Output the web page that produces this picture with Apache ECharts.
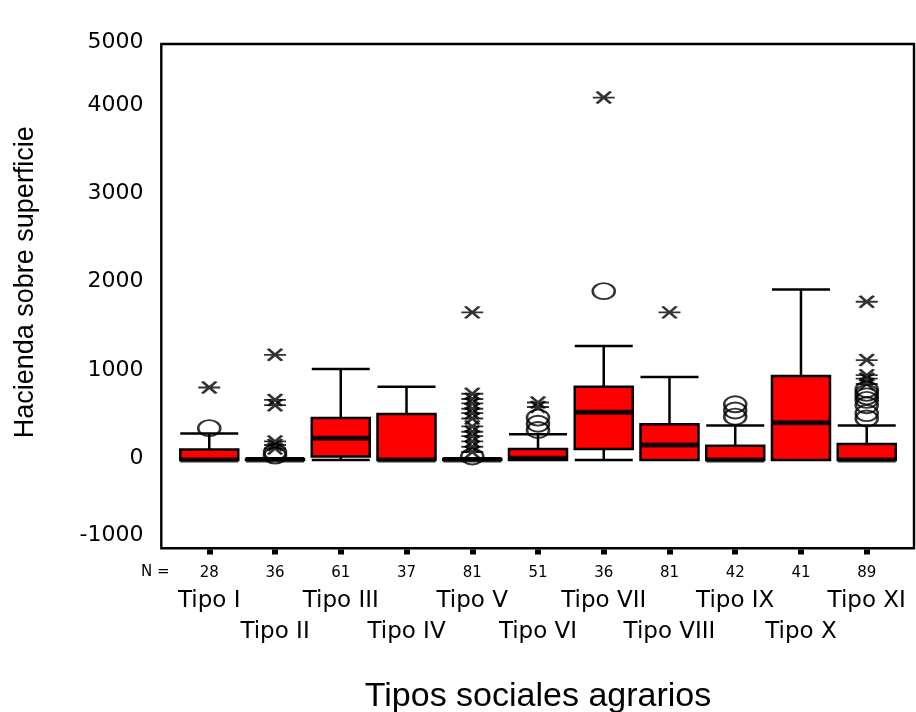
<!DOCTYPE html>
<html><head><meta charset="utf-8">
<script src="https://cdn.jsdelivr.net/npm/echarts@6/dist/echarts.min.js"></script>
<style>html,body{margin:0;padding:0;background:#fff}#c{width:916px;height:712px}</style>
</head><body><div id="c"></div>
<script>
const categories = ['Tipo I','Tipo II','Tipo III','Tipo IV','Tipo V','Tipo VI','Tipo VII','Tipo VIII','Tipo IX','Tipo X','Tipo XI'];
const nCounts = [28,36,61,37,81,51,36,81,42,41,89];
const whiskerLow = [0,0,0,0,0,0,0,0,0,0,0];
const q1 = [0,0,40,0,0,0,125,0,0,0,0];
const median = [0,0,245,0,0,20,540,170,0,420,0];
const q3 = [120,10,475,520,10,125,830,405,160,950,180];
const whiskerHigh = [300,20,1030,830,20,290,1290,940,390,1930,390];
const outliers = [[360],[90,50],[],[],[40],[340,410,480],[1910],[],[490,560,630],[],[470,530,620,680,720,760,800]];
const extremes = [[820],[1190,680,620,210,170,130],[],[],[1670,750,690,640,580,530,470,380,320,270,210,150,90],[600,650],[4100],[1670],[],[],[860,920,960,1130,1790]];
const yTickValues = [-1000,0,1000,2000,3000,4000];
const yTickLabels = ['-1000','0','1000','2000','3000','4000','5000'];
const nLabel = 'N =';
const xTitle = 'Tipos sociales agrarios';
const yTitle = 'Hacienda sobre superficie';

const boxData = categories.map((c,i)=>[whiskerLow[i],q1[i],median[i],q3[i],whiskerHigh[i]]);
const medData = categories.map((c,i)=>[i, median[i]]);
const outData = []; outliers.forEach((arr,i)=>arr.forEach(v=>outData.push([i,v])));
const extData = []; extremes.forEach((arr,i)=>arr.forEach(v=>extData.push([i,v])));

const chart = echarts.init(document.getElementById('c'), null, {renderer:'canvas'});
const GL = 176.4, GR = 16.4, GT = 44, GB = 163.6;
chart.setOption({
  animation:false,
  backgroundColor:'#fff',
  grid:[
    {left:161.3, right:2, top:GT, bottom:163.7, show:true, borderColor:'#000', borderWidth:2.4, backgroundColor:'transparent', outerBoundsMode:'none', containLabel:false},
    {left:GL, right:GR, top:GT, bottom:GB, outerBoundsMode:'none', containLabel:false}
  ],
  xAxis:[
    {gridIndex:0, type:'value', show:false},
    {gridIndex:1, type:'category', data:categories, position:'bottom', offset:1,
      axisLine:{show:false, onZero:false},
      axisTick:{show:true, alignWithLabel:true, length:5, inside:false, lineStyle:{color:'#000', width:6}},
      axisLabel:{interval:0, margin:16, fontFamily:'DejaVu Sans', fontSize:15, color:'#000',
        formatter:(v,i)=>String(nCounts[i])},
      splitLine:{show:false}},
    {gridIndex:1, type:'category', data:categories, position:'bottom',
      axisLine:{show:false, onZero:false}, axisTick:{show:false}, splitLine:{show:false},
      axisLabel:{interval:0, margin:37, fontFamily:'DejaVu Sans', fontSize:23, color:'#000', lineHeight:31,
        formatter:(v,i)=> i%2 ? '\n'+v : v},
      name:xTitle, nameLocation:'middle', nameGap:131,
      nameTextStyle:{fontFamily:'Liberation Sans', fontSize:34, color:'#000'}}
  ],
  yAxis:[
    {gridIndex:0, type:'value', show:false},
    {gridIndex:1, type:'value', min:-1000, max:4706, interval:1000,
      axisLine:{show:false, onZero:false}, axisTick:{show:false}, splitLine:{show:false},
      axisLabel:{margin:33, fontFamily:'DejaVu Sans', fontSize:22, color:'#000', padding:[0,0,3,0],
        formatter:(v)=>{ if(v>4000) return yTickLabels[6]; if(v<=-1000) return '{lo|'+yTickLabels[0]+'}';
          const k = yTickValues.indexOf(v); return k>=0 ? yTickLabels[k] : ''; },
        rich:{lo:{fontFamily:'DejaVu Sans', fontSize:22, color:'#000', padding:[0,0,24,0]}}},
      name:yTitle, nameLocation:'middle', nameRotate:90, nameGap:137,
      nameTextStyle:{fontFamily:'Liberation Sans', fontSize:27, color:'#000', padding:[0,0,0,28]}}
  ],
  graphic:[
    {type:'text', left:141, top:565, style:{text:nLabel, font:'15px "DejaVu Sans"', fill:'#000'}}
  ],
  series:[
    {type:'boxplot', xAxisIndex:1, yAxisIndex:1, data:boxData, boxWidth:[58,58],
      itemStyle:{color:'#ff0000', borderColor:'#000', borderWidth:2.5},
      emphasis:{disabled:true}, z:2},
    {type:'scatter', xAxisIndex:1, yAxisIndex:1, data:medData, symbol:'rect', symbolSize:[58,5],
      itemStyle:{color:'#000'}, emphasis:{disabled:true}, z:3},
    {type:'scatter', xAxisIndex:1, yAxisIndex:1, data:outData,
      symbol:'path://M0,8 A11,8 0 1,1 22,8 A11,8 0 1,1 0,8 Z', symbolSize:[22,16],
      itemStyle:{color:'rgba(0,0,0,0)', borderColor:'#000', borderWidth:2.2}, emphasis:{disabled:true}, z:4},
    {type:'scatter', xAxisIndex:1, yAxisIndex:1, data:extData,
      symbol:'path://M4,0 L18,12 M18,0 L4,12 M0,6 L22,6', symbolSize:[22,12],
      itemStyle:{color:'rgba(0,0,0,0)', borderColor:'#000', borderWidth:2.5}, emphasis:{disabled:true}, z:4}
  ]
});
</script></body></html>
